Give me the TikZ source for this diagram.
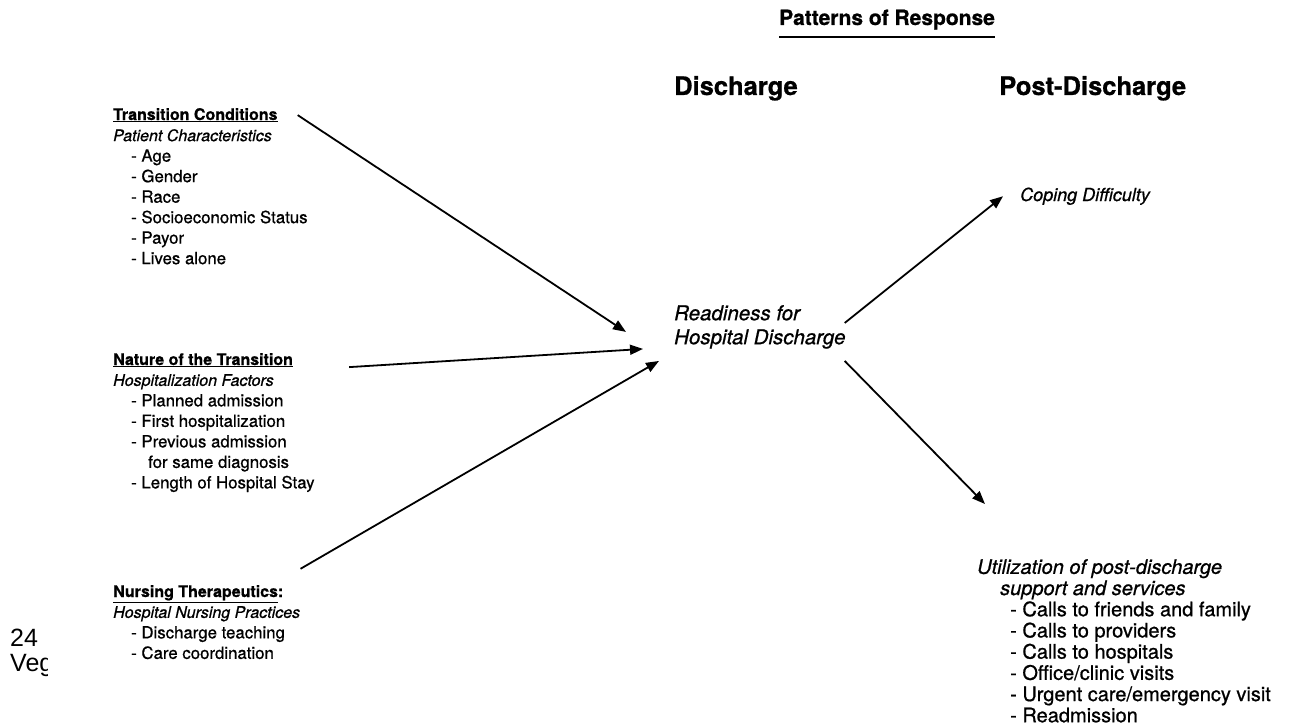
\documentclass[tikz,border=0pt]{standalone}
\usepackage{fontspec}
\setmainfont{TeX Gyre Heros}[FakeBold=0.8]
\newfontfamily\pagefont{Liberation Sans}
\usetikzlibrary{arrows.meta}
\newcommand{\itm}[1]{\hspace*{18pt}{\fontsize{16.8}{20.5}\selectfont - #1}}
\newcommand{\uitm}[1]{\hspace*{33pt}- #1}

\begin{document}
\begin{tikzpicture}[x=1pt,y=-1pt,
    hdr/.style={anchor=base west,inner sep=0pt,font=\fontsize{16}{20.5}\selectfont\bfseries},
    lst/.style={anchor=north west,inner sep=0pt,align=left,font=\fontsize{16}{20.5}\selectfont},
    col/.style={anchor=base west,inner sep=0pt,font=\fontsize{25.5}{30}\selectfont\bfseries},
    resp/.style={inner sep=0pt,align=left,font=\fontsize{20}{21.2}\selectfont},
    arr/.style={-{Triangle[length=13pt,width=10pt]},line width=1.8pt}]
  \useasboundingbox (0,0) rectangle (1298,725);
  % column titles
  \node[anchor=base west,inner sep=0pt,font=\fontsize{21}{24}\selectfont\bfseries] (pat) at (779,25) {Patterns of Response};
  \draw[line width=2.5pt] ([yshift=-7pt]pat.south west) -- ([yshift=-7pt]pat.south east);
  \node[col] (dis) at (674,95) {Discharge};
  \node[col] (post) at (999,95) {Post-Discharge};
  % left blocks
  \node[hdr] (tc) at (113,120) {\underline{Transition Conditions}};
  \node[lst] (tcl) at (113,129) {\textit{Patient Characteristics}\\ \itm{Age}\\ \itm{Gender}\\
    \itm{Race}\\ \itm{Socioeconomic Status}\\ \itm{Payor}\\ \itm{Lives alone}};
  \node[hdr] (nt) at (113,365) {\underline{Nature of the Transition}};
  \node[lst] (ntl) at (113,374) {\textit{Hospitalization Factors}\\ \itm{Planned admission}\\
    \itm{First hospitalization}\\ \itm{Previous admission}\\
    \hspace*{35pt}{\fontsize{16.8}{20.5}\selectfont for same diagnosis}\\
    \itm{Length of Hospital Stay}};
  \node[hdr] (nth) at (113,597) {\underline{Nursing Therapeutics}:};
  \node[lst] (nthl) at (113,606) {\textit{Hospital Nursing Practices}\\ \itm{Discharge teaching}\\
    \itm{Care coordination}};
  % centre and right
  \node[resp,anchor=north west,font=\fontsize{20.5}{24}\selectfont\itshape] (ready) at (674,305) {Readiness for\\ Hospital Discharge};
  \node[resp,anchor=base west,font=\fontsize{18}{22}\selectfont\itshape] (cop) at (1020,201) {Coping Difficulty};
  \node[resp,anchor=north west] (util) at (977,559) {\textit{Utilization of post-discharge}\\
    \hspace*{23pt}\textit{support and services}\\ \uitm{Calls to friends and family}\\
    \uitm{Calls to providers}\\ \uitm{Calls to hospitals}\\ \uitm{Office/clinic visits}\\
    \uitm{Urgent care/emergency visit}\\ \uitm{Readmission}};
  % page margin text
  \begin{scope}
    \clip (0,600) rectangle (47,700);
    \node[anchor=base west,inner sep=0pt,font=\pagefont\fontsize{25}{30}\selectfont] (pg) at (10,646) {24};
    \node[anchor=base west,inner sep=0pt,font=\pagefont\fontsize{25}{30}\selectfont] (veg) at (10,671) {Veg};
  \end{scope}
  % arrows
  \draw[arr] ([xshift=20pt]tc.east) -- ([xshift=-48pt,yshift=-5pt]ready.west);
  \draw[arr] ([xshift=56pt,yshift=-7pt]nt.east) -- ([xshift=-31pt,yshift=-22pt]ready.west);
  \draw[arr] ([xshift=17pt,yshift=25pt]nth.east) -- ([xshift=-15pt,yshift=-34pt]ready.west);
  \draw[arr] ([xshift=-1pt,yshift=4pt]ready.east) -- ([xshift=-17pt]cop.west);
  \draw[arr] ([xshift=-1pt,yshift=-34pt]ready.east) -- ([xshift=8pt,yshift=55pt]util.north west);
\end{tikzpicture}
\end{document}
